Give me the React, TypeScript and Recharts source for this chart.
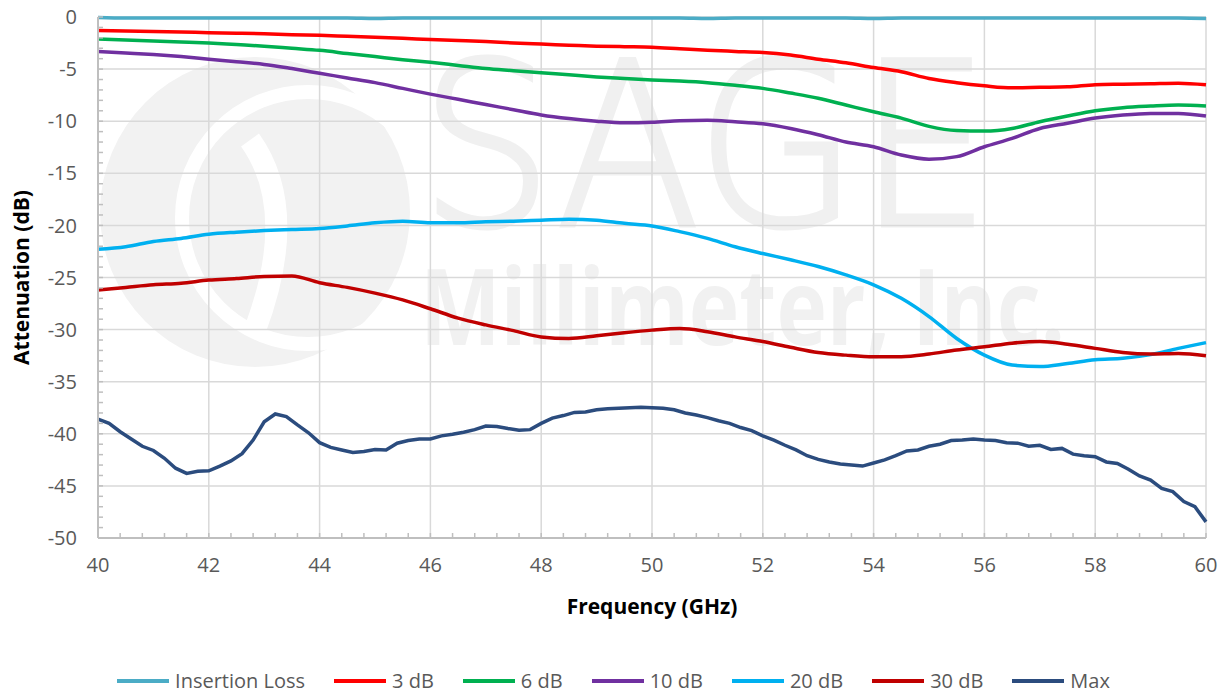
import { LineChart, Line, XAxis, YAxis, CartesianGrid, Label } from "recharts";

// frequency grid (GHz) used by the smoother traces
const FREQ = [
  40, 40.5, 41, 41.5, 42, 42.5, 43, 43.5, 44, 44.5, 45, 45.5, 46, 46.5, 47, 47.5,
  48, 48.5, 49, 49.5, 50, 50.5, 51, 51.5, 52, 52.5, 53, 53.5, 54, 54.5, 55, 55.5,
  56, 56.5, 57, 57.5, 58, 58.5, 59, 59.5, 60,
];

const INSERTION_LOSS = [
  -0.05, -0.1, -0.1, -0.1, -0.1, -0.1, -0.1, -0.1, -0.1, -0.1, -0.15, -0.1, -0.1, -0.1,
  -0.1, -0.1, -0.1, -0.1, -0.1, -0.1, -0.1, -0.1, -0.15, -0.1, -0.1, -0.1, -0.1, -0.1,
  -0.15, -0.1, -0.1, -0.1, -0.1, -0.1, -0.1, -0.1, -0.1, -0.1, -0.1, -0.1, -0.15,
];

const DB3 = [
  -1.3, -1.35, -1.4, -1.45, -1.5, -1.55, -1.6, -1.7, -1.75, -1.85, -1.95, -2.05, -2.15,
  -2.25, -2.35, -2.5, -2.6, -2.7, -2.8, -2.85, -2.9, -3.05, -3.2, -3.3, -3.4, -3.65,
  -4.05, -4.4, -4.85, -5.25, -5.9, -6.3, -6.6, -6.8, -6.75, -6.7, -6.5, -6.45, -6.4,
  -6.35, -6.5,
];

const DB6 = [
  -2.1, -2.2, -2.3, -2.4, -2.5, -2.65, -2.8, -3.0, -3.2, -3.5, -3.8, -4.1, -4.35, -4.65,
  -4.95, -5.15, -5.35, -5.55, -5.75, -5.9, -6.05, -6.15, -6.3, -6.55, -6.85, -7.3, -7.8,
  -8.45, -9.1, -9.7, -10.5, -10.9, -10.95, -10.7, -10.05, -9.5, -9.0, -8.7, -8.55, -8.45,
  -8.55,
];

const DB10 = [
  -3.3, -3.45, -3.6, -3.8, -4.05, -4.3, -4.55, -4.95, -5.4, -5.85, -6.3, -6.85, -7.4,
  -7.9, -8.4, -8.9, -9.4, -9.75, -10.0, -10.15, -10.1, -9.95, -9.9, -10.05, -10.25,
  -10.7, -11.3, -12.0, -12.45, -13.25, -13.65, -13.4, -12.45, -11.65, -10.7, -10.2,
  -9.7, -9.4, -9.25, -9.25, -9.5,
];

const DB20 = [
  -22.3, -22.05, -21.55, -21.25, -20.85, -20.65, -20.5, -20.4, -20.3, -20.05, -19.75,
  -19.6, -19.75, -19.75, -19.65, -19.6, -19.5, -19.4, -19.5, -19.8, -20.05, -20.6,
  -21.25, -22.05, -22.7, -23.3, -23.95, -24.75, -25.7, -27.0, -28.75, -30.85, -32.45,
  -33.4, -33.55, -33.25, -32.9, -32.75, -32.4, -31.8, -31.25,
];

const DB30 = [
  -26.2, -25.95, -25.7, -25.55, -25.25, -25.1, -24.9, -24.85, -25.5, -25.95, -26.5,
  -27.15, -28.0, -28.9, -29.55, -30.1, -30.7, -30.85, -30.6, -30.3, -30.05, -29.9,
  -30.2, -30.7, -31.15, -31.7, -32.2, -32.45, -32.6, -32.6, -32.35, -31.95, -31.65,
  -31.3, -31.15, -31.4, -31.8, -32.2, -32.35, -32.3, -32.5,
];

// the "Max" trace is noisier, so it is read on a finer grid
const FREQ_MAX = [
  40, 40.2, 40.4, 40.6, 40.8, 41, 41.2, 41.4, 41.6, 41.8, 42, 42.2, 42.4, 42.6, 42.8,
  43, 43.2, 43.4, 43.6, 43.8, 44, 44.2, 44.4, 44.6, 44.8, 45, 45.2, 45.4, 45.6, 45.8,
  46, 46.2, 46.4, 46.6, 46.8, 47, 47.2, 47.4, 47.6, 47.8, 48, 48.2, 48.4, 48.6, 48.8,
  49, 49.2, 49.4, 49.6, 49.8, 50, 50.2, 50.4, 50.6, 50.8, 51, 51.2, 51.4, 51.6, 51.8,
  52, 52.2, 52.4, 52.6, 52.8, 53, 53.2, 53.4, 53.6, 53.8, 54, 54.2, 54.4, 54.6, 54.8,
  55, 55.2, 55.4, 55.6, 55.8, 56, 56.2, 56.4, 56.6, 56.8, 57, 57.2, 57.4, 57.6, 57.8,
  58, 58.2, 58.4, 58.6, 58.8, 59, 59.2, 59.4, 59.6, 59.8, 60,
];

const MAX = [
  -38.6, -39.0, -39.8, -40.5, -41.2, -41.6, -42.35, -43.3, -43.8, -43.6, -43.55, -43.1,
  -42.6, -41.9, -40.6, -38.85, -38.1, -38.35, -39.15, -39.9, -40.85, -41.3, -41.55,
  -41.8, -41.7, -41.5, -41.55, -40.9, -40.65, -40.5, -40.5, -40.2, -40.05, -39.85,
  -39.6, -39.25, -39.3, -39.5, -39.65, -39.6, -39.0, -38.5, -38.25, -37.95, -37.9,
  -37.7, -37.6, -37.55, -37.5, -37.45, -37.5, -37.55, -37.7, -38.0, -38.2, -38.45,
  -38.75, -39.0, -39.4, -39.7, -40.2, -40.6, -41.1, -41.55, -42.1, -42.45, -42.7,
  -42.9, -43.0, -43.1, -42.8, -42.5, -42.1, -41.65, -41.55, -41.2, -41.0, -40.65,
  -40.6, -40.5, -40.6, -40.65, -40.85, -40.9, -41.2, -41.1, -41.5, -41.4, -41.95,
  -42.1, -42.2, -42.7, -42.85, -43.4, -44.05, -44.45, -45.25, -45.55, -46.5, -47.0,
  -48.45,
];

const X_TICKS = [40, 42, 44, 46, 48, 50, 52, 54, 56, 58, 60];
const Y_TICKS = [-50, -45, -40, -35, -30, -25, -20, -15, -10, -5, 0];
const X_MINOR = Array.from({ length: 51 }, (_, i) => Math.round((40 + i * 0.4) * 10) / 10);
const Y_MINOR = Array.from({ length: 51 }, (_, i) => -50 + i);

const SERIES = [
  { key: "il", name: "Insertion Loss", color: "#4bacc6" },
  { key: "db3", name: "3 dB", color: "#ff0000" },
  { key: "db6", name: "6 dB", color: "#00b050" },
  { key: "db10", name: "10 dB", color: "#7030a0" },
  { key: "db20", name: "20 dB", color: "#00b0f0" },
  { key: "db30", name: "30 dB", color: "#c00000" },
];
const MAX_COLOR = "#2b4c7e";

const rows = FREQ.map((f, i) => ({
  f,
  il: INSERTION_LOSS[i],
  db3: DB3[i],
  db6: DB6[i],
  db10: DB10[i],
  db20: DB20[i],
  db30: DB30[i],
}));
const maxRows = FREQ_MAX.map((f, i) => ({ f, max: MAX[i] }));

const axisColor = "#bfbfbf";
const labelColor = "#595959";
const X_MARGIN = 20;
const Y_MARGIN = 21;

// every minor position gets a short inward mark, majors also get a label
const XTick = (p: any) => {
  const v = p.payload.value;
  const axisY = p.y - X_MARGIN;
  return (
    <g>
      <line x1={p.x} x2={p.x} y1={axisY} y2={axisY - 5} stroke={axisColor} strokeWidth={1.5} />
      {X_TICKS.includes(v) && (
        <text x={p.x} y={p.y} dy="0.71em" textAnchor="middle" fill={labelColor} fontSize={20}>
          {v}
        </text>
      )}
    </g>
  );
};

const YTick = (p: any) => {
  const v = p.payload.value;
  const axisX = p.x + Y_MARGIN;
  return (
    <g>
      <line x1={axisX} x2={axisX + 5} y1={p.y} y2={p.y} stroke={axisColor} strokeWidth={1.5} />
      {Y_TICKS.includes(v) && (
        <text x={p.x} y={p.y} dy="0.355em" textAnchor="end" fill={labelColor} fontSize={20}>
          {v}
        </text>
      )}
    </g>
  );
};

const Watermark = () => (
  <svg width={1227} height={694} style={{ position: "absolute", left: 0, top: 0 }}>
    <circle cx={255} cy={212} r={155} fill="#f2f2f2" />
    <circle cx={308} cy={218} r={126} fill="none" stroke="#ffffff" strokeWidth={14} />
    <path d="M250 140 Q300 210 255 330" fill="none" stroke="#ffffff" strokeWidth={22} />
    <text
      x={420}
      y={225}
      fontSize={226}
      fontFamily="DejaVu Sans"
      fontWeight={200}
      fill="#f0f0f0"
      stroke="#f0f0f0"
      strokeWidth={5}
      textLength={570}
      lengthAdjust="spacingAndGlyphs"
    >
      SAGE
    </text>
    <text
      x={420}
      y={345}
      fontSize={105}
      fontFamily="Open Sans"
      fontWeight={700}
      fill="#f1f1f1"
      textLength={645}
      lengthAdjust="spacingAndGlyphs"
    >
      Millimeter, Inc.
    </text>
  </svg>
);

const LegendRow = () => (
  <div
    style={{
      position: "absolute",
      left: 0,
      top: 667,
      width: 1227,
      display: "flex",
      justifyContent: "center",
      alignItems: "center",
      gap: 29,
      fontSize: 20,
      color: labelColor,
    }}
  >
    {[...SERIES, { key: "max", name: "Max", color: MAX_COLOR }].map((s) => (
      <div key={s.key} style={{ display: "flex", alignItems: "center", gap: 6 }}>
        <span style={{ width: 52, height: 4, background: s.color, display: "inline-block" }} />
        <span>{s.name}</span>
      </div>
    ))}
  </div>
);

export default function App() {
  return (
    <div
      style={{
        position: "absolute",
        left: 0,
        top: 0,
        width: 1227,
        height: 694,
        background: "#ffffff",
        fontFamily: "'Open Sans', sans-serif",
      }}
    >
      <Watermark />
      <div style={{ position: "absolute", left: 0, top: 0 }}>
        <LineChart width={1227} height={694} margin={{ top: 17, right: 21, left: 18, bottom: 96 }}>
          <CartesianGrid
            stroke="#d9d9d9"
            strokeWidth={1.5}
            verticalValues={X_TICKS}
            horizontalValues={Y_TICKS}
          />
          <XAxis
            dataKey="f"
            type="number"
            domain={[40, 60]}
            ticks={X_MINOR}
            interval={0}
            height={60}
            tickSize={0}
            tickMargin={X_MARGIN}
            tickLine={false}
            axisLine={{ stroke: axisColor, strokeWidth: 2 }}
            tick={XTick}
          >
            <Label
              value="Frequency (GHz)"
              position="bottom"
              offset={1}
              style={{ fontWeight: 700, fontSize: 21, fill: "#000" }}
            />
          </XAxis>
          <YAxis
            type="number"
            domain={[-50, 0]}
            ticks={Y_MINOR}
            interval={0}
            width={80}
            tickSize={0}
            tickMargin={Y_MARGIN}
            tickLine={false}
            axisLine={{ stroke: axisColor, strokeWidth: 2 }}
            tick={YTick}
          >
            <Label
              value="Attenuation (dB)"
              angle={-90}
              position="insideLeft"
              offset={4}
              style={{ fontWeight: 700, fontSize: 21, fill: "#000", textAnchor: "middle" }}
            />
          </YAxis>
          {SERIES.map((s) => (
            <Line
              key={s.key}
              data={rows}
              dataKey={s.key}
              name={s.name}
              type="monotone"
              stroke={s.color}
              strokeWidth={3.5}
              dot={false}
              isAnimationActive={false}
            />
          ))}
          <Line
            data={maxRows}
            dataKey="max"
            name="Max"
            type="linear"
            stroke={MAX_COLOR}
            strokeWidth={3.5}
            dot={false}
            isAnimationActive={false}
          />
        </LineChart>
      </div>
      <LegendRow />
    </div>
  );
}
